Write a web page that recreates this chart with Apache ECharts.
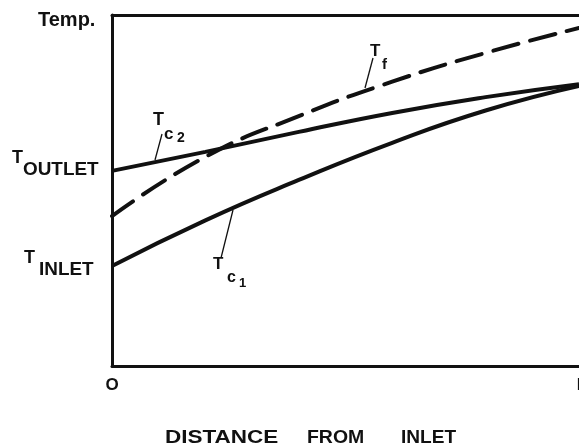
<!DOCTYPE html>
<html>
<head>
<meta charset="utf-8">
<style>
  html, body { margin: 0; padding: 0; background: #fff; }
  #chart { width: 579px; height: 446px; }
</style>
<script src="https://cdn.jsdelivr.net/npm/echarts@6/dist/echarts.min.js"></script>
</head>
<body>
<div id="chart"></div>
<script>
// Distance from inlet (fraction of length) and temperatures (arbitrary units)
const distance = [0, 0.2, 0.4, 0.6, 0.8, 1.0];
const tc2 = [55.6, 61.0, 66.7, 72.1, 76.6, 80.3];
const tf  = [42.7, 59.6, 71.2, 81.0, 89.2, 96.3];
const tc1 = [28.5, 41.5, 53.0, 63.6, 72.8, 79.8];
const xTickLabels = { 0: 'O', 1: 'I' };

const FONT = '"Liberation Sans", Arial, sans-serif';
const INK = '#111';

function pairs(xs, ys) { return xs.map((x, i) => [x, ys[i]]); }

const chart = echarts.init(document.getElementById('chart'), null, { renderer: 'canvas' });

function txt(text, x, y, size, extra) {
  return Object.assign({
    type: 'text', left: x, top: y,
    style: { text: text, fill: INK, font: 'bold ' + size + 'px ' + FONT }
  }, extra || {});
}
function seg(x1, y1, x2, y2, w) {
  return { type: 'line', shape: { x1, y1, x2, y2 }, style: { stroke: INK, lineWidth: w || 1.3 } };
}

const option = {
  animation: false,
  backgroundColor: '#fff',
  grid: { left: 112, right: 0, top: 15, bottom: 80, containLabel: false, outerBoundsMode: 'none' },
  xAxis: [{
    type: 'value', min: 0, max: 1, position: 'bottom',
    axisLine: { show: true, lineStyle: { color: INK, width: 3 } },
    axisTick: { show: false }, splitLine: { show: false },
    axisLabel: {
      show: true, showMinLabel: true, showMaxLabel: true, margin: 11,
      color: INK, fontWeight: 'bold', fontSize: 17, fontFamily: FONT,
      formatter: v => (xTickLabels[v] !== undefined ? xTickLabels[v] : '')
    }
  }, {
    type: 'value', min: 0, max: 1, position: 'top',
    axisLine: { show: true, lineStyle: { color: INK, width: 3 } },
    axisTick: { show: false }, splitLine: { show: false }, axisLabel: { show: false }
  }],
  yAxis: {
    type: 'value', min: 0, max: 100,
    axisLine: { show: true, lineStyle: { color: INK, width: 3 } },
    axisTick: { show: false }, splitLine: { show: false }, axisLabel: { show: false }
  },
  series: [
    { name: 'Tc2', type: 'line', data: pairs(distance, tc2), smooth: true, symbol: 'none',
      lineStyle: { color: INK, width: 4 } },
    { name: 'Tf', type: 'line', data: pairs(distance, tf), smooth: true, symbol: 'none',
      lineStyle: { color: INK, width: 4, type: [26, 12], cap: 'round' } },
    { name: 'Tc1', type: 'line', data: pairs(distance, tc1), smooth: true, symbol: 'none',
      lineStyle: { color: INK, width: 4 } }
  ],
  graphic: [
    txt('Temp.', 38, 10, 20),
    txt('T', 12, 149, 18),
    txt('OUTLET', 23, 161, 18, { scaleX: 1.05 }),
    txt('T', 24, 249, 18),
    txt('INLET', 39, 261, 18, { scaleX: 1.05 }),
    // x-axis title
    txt('DISTANCE', 165, 429, 18, { scaleX: 1.25 }),
    txt('FROM', 307, 429, 18, { scaleX: 1.08 }),
    txt('INLET', 401, 429, 18, { scaleX: 1.06 }),
    // Tc2 annotation
    seg(155, 160, 162, 134),
    txt('T', 153, 111, 18),
    txt('c', 164, 126, 17),
    txt('2', 177, 131, 14),
    // Tf annotation
    seg(365, 88, 373, 58),
    txt('T', 370, 43, 17),
    txt('f', 382, 57, 15),
    // Tc1 annotation
    seg(233, 210, 221, 258),
    txt('T', 213, 256, 17),
    txt('c', 227, 270, 16),
    txt('1', 239, 277, 13)
  ]
};
chart.setOption(option);
</script>
</body>
</html>
